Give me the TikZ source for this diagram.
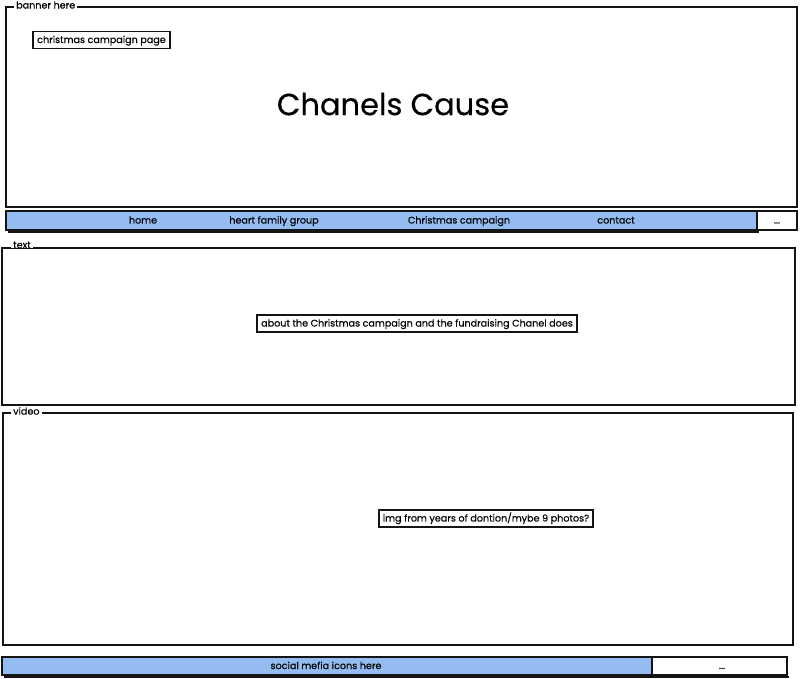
\documentclass[tikz,border=0pt]{standalone}
\usepackage{fontspec}
\setmainfont{Poppins}[FakeBold=0.35]
\definecolor{barblue}{RGB}{148,188,240}
\definecolor{ink}{RGB}{20,20,20}
\begin{document}
\begin{tikzpicture}[x=1pt,y=-1pt,
  frame/.style={draw=ink,line width=1.6pt},
  grouplabel/.style={fill=white,inner xsep=2pt,inner ysep=0pt,anchor=west,font=\fontsize{9.6}{12}\selectfont},
  txtbox/.style={draw=ink,line width=1.7pt,fill=white,inner xsep=4pt,inner ysep=3.5pt,text height=1.45ex,text depth=.35ex,font=\fontsize{9.6}{12}\selectfont},
  navtxt/.style={text height=1.45ex,text depth=.35ex,font=\fontsize{9.6}{12}\selectfont},
  bar/.style={draw=ink,line width=1.6pt,fill=barblue},
  whitecell/.style={draw=ink,line width=1.6pt,fill=white}]
\useasboundingbox (0,0) rectangle (800,678);
% banner group
\draw[frame] (6,7) rectangle (797,207);
\node[grouplabel] (lbanner) at (14,5) {banner here};
\node[txtbox] (camp) at (101.5,40) {christmas campaign page};
\node[font=\fontsize{30.5}{36}\selectfont] (title) at (393,104) {Chanels Cause};
% nav bar
\draw[ink,line width=2.5pt] (8,232) -- (759,232);
\draw[bar] (6,211) rectangle (757,230);
\draw[whitecell] (757,211) rectangle (797,230);
\node[navtxt] (home) at (143,220.5) {home};
\node[navtxt] (heart) at (274,220.5) {heart family group};
\node[navtxt] (xmas) at (459,220.5) {Christmas campaign};
\node[navtxt] (contact) at (616,220.5) {contact};
\node[navtxt] (more) at (777,220.5) {...};
% text group
\draw[frame] (2,248) rectangle (795,405);
\node[grouplabel] (ltext) at (11,245) {text};
\node[txtbox] (about) at (417,323.5) {about the Christmas campaign and the fundraising Chanel does};
% video group
\draw[frame] (3,413) rectangle (793,645);
\node[grouplabel] (lvideo) at (11,411) {video};
\node[txtbox] (img) at (486,518.5) {img from years of dontion/mybe 9 photos?};
% bottom bar
\draw[ink,line width=2.5pt] (4,677) -- (789,677);
\draw[bar] (2,657) rectangle (652,675);
\draw[whitecell] (652,657) rectangle (787,675);
\node[navtxt] (social) at (326,666) {social mefia icons here};
\node[navtxt] (more2) at (722,666) {...};
\end{tikzpicture}
\end{document}
